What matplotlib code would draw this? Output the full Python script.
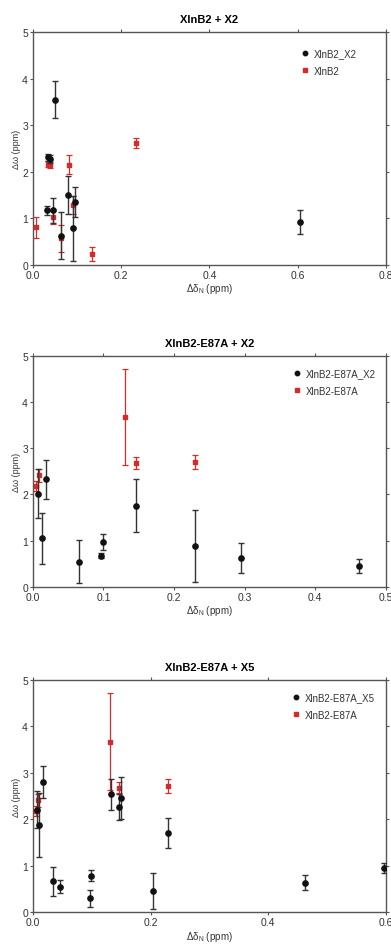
import numpy as np
import matplotlib
matplotlib.use("Agg")
import matplotlib.pyplot as plt

plt.rcParams['font.family'] = ['Liberation Sans', 'DejaVu Sans']

# panel 1: XlnB2 + X2
p1_black_x = [0.605, 0.051, 0.035, 0.039, 0.031, 0.046, 0.063, 0.079, 0.091, 0.095]
p1_black_y = [0.93, 3.55, 2.31, 2.27, 1.17, 1.17, 0.63, 1.50, 0.79, 1.35]
p1_black_e = [0.26, 0.39, 0.08, 0.08, 0.10, 0.27, 0.50, 0.40, 0.70, 0.32]
p1_red_x = [0.007, 0.035, 0.039, 0.046, 0.063, 0.082, 0.092, 0.133, 0.233]
p1_red_y = [0.81, 2.17, 2.15, 1.03, 0.57, 2.15, 1.29, 0.23, 2.62]
p1_red_e = [0.22, 0.07, 0.07, 0.15, 0.28, 0.20, 0.20, 0.15, 0.10]

# panel 2: XlnB2-E87A + X2
p2_black_x = [0.0066, 0.013, 0.018, 0.065, 0.097, 0.0996, 0.146, 0.229, 0.295, 0.462]
p2_black_y = [2.02, 1.05, 2.33, 0.55, 0.68, 0.98, 1.76, 0.89, 0.62, 0.46]
p2_black_e = [0.53, 0.55, 0.42, 0.46, 0.06, 0.17, 0.57, 0.78, 0.32, 0.15]

# shared red series (XlnB2-E87A), panels 2 and 3
e87a_x = [0.005, 0.0085, 0.131, 0.146, 0.229]
e87a_y = [2.18, 2.41, 3.67, 2.68, 2.71]
e87a_e = [0.10, 0.14, 1.04, 0.12, 0.15]

# panel 3: XlnB2-E87A + X5
p3_black_x = [0.0074, 0.011, 0.0176, 0.035, 0.046, 0.097, 0.0994, 0.132,
              0.147, 0.149, 0.205, 0.229, 0.463, 0.596]
p3_black_y = [2.21, 1.88, 2.80, 0.67, 0.55, 0.30, 0.79, 2.54,
              2.26, 2.46, 0.46, 1.70, 0.64, 0.95]
p3_black_e = [0.40, 0.69, 0.35, 0.31, 0.14, 0.19, 0.11, 0.33,
              0.28, 0.45, 0.38, 0.32, 0.16, 0.10]

black = '#111111'
red = '#d42b2b'
txt = '#333333'

panels = [
    ("XlnB2 + X2", p1_black_x, p1_black_y, p1_black_e, "XlnB2_X2",
     p1_red_x, p1_red_y, p1_red_e, "XlnB2", 0.8, [0.0, 0.2, 0.4, 0.6, 0.8]),
    ("XlnB2-E87A + X2", p2_black_x, p2_black_y, p2_black_e, "XlnB2-E87A_X2",
     e87a_x, e87a_y, e87a_e, "XlnB2-E87A", 0.5, [0.0, 0.1, 0.2, 0.3, 0.4, 0.5]),
    ("XlnB2-E87A + X5", p3_black_x, p3_black_y, p3_black_e, "XlnB2-E87A_X5",
     e87a_x, e87a_y, e87a_e, "XlnB2-E87A", 0.6, [0.0, 0.2, 0.4, 0.6]),
]

boxes = [[0.084, 0.7185, 0.903, 0.2466],
         [0.084, 0.3778, 0.903, 0.2448],
         [0.084, 0.0335, 0.903, 0.2462]]
leg_anchor = [(0.731, 0.958), (0.711, 0.975), (0.708, 0.975)]

fig = plt.figure(figsize=(3.91, 9.45), dpi=100)

for box, anc, (title, bx, by, be, blab, rx, ry, re, rlab, xmax, xt) in zip(boxes, leg_anchor, panels):
    ax = fig.add_axes(box)
    ax.errorbar(rx, ry, yerr=re, fmt='s', color=red, ecolor=red, ms=3.5,
                elinewidth=0.9, capsize=2.2, capthick=0.9, zorder=3)
    ax.errorbar(bx, by, yerr=be, fmt='o', color=black, ecolor='#333333', ms=3.8,
                elinewidth=1.0, capsize=2.2, capthick=1.0, zorder=4)
    ax.set_xlim(0, xmax)
    ax.set_ylim(0, 5)
    ax.set_xticks(xt)
    ax.set_xticklabels(["%.1f" % v for v in xt])
    ax.set_yticks([0, 1, 2, 3, 4, 5])
    ax.tick_params(labelsize=7.5, length=2.5, width=0.8, color='#555555',
                   labelcolor=txt, top=True, right=True, pad=1)
    for s in ax.spines.values():
        s.set_color('#555555')
        s.set_linewidth(1.0)
    ax.set_title(title, fontsize=8, fontweight='bold', pad=7)
    ax.set_ylabel('Δω (ppm)', fontsize=6.5, labelpad=1, color=txt)
    ax.set_xlabel('Δδ$_\\mathregular{N}$ (ppm)', fontsize=7, labelpad=1, color=txt)
    hs = [ax.plot([], [], 'o', color=black, ms=3.2)[0],
          ax.plot([], [], 's', color=red, ms=3.0)[0]]
    ax.legend(hs, [blab, rlab], loc='upper left', frameon=False, fontsize=7,
              handletextpad=0.2, handlelength=1.4, borderaxespad=0.3,
              labelspacing=0.75, bbox_to_anchor=anc, labelcolor=txt)

fig.savefig('out.png', dpi=100)
